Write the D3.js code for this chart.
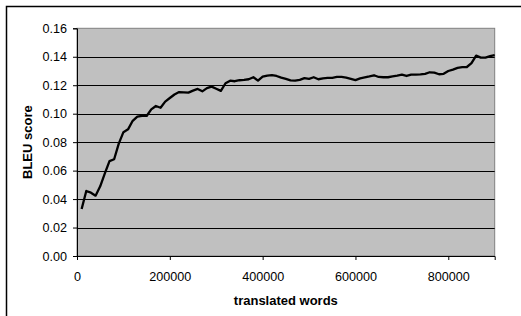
<!DOCTYPE html>
<html>
<head>
<meta charset="utf-8">
<script src="https://cdn.jsdelivr.net/npm/d3@7"></script>
<style>
  html, body { margin: 0; padding: 0; background: #fff; }
  svg { display: block; }
  text { font-family: "Liberation Sans", Arial, sans-serif; }
</style>
</head>
<body>
<svg id="chart" width="521" height="316"></svg>
<script>
const words = [10000,20000,30000,40000,50000,60000,70000,80000,90000,100000,
  110000,120000,130000,140000,150000,160000,170000,180000,190000,200000,
  210000,220000,230000,240000,250000,260000,270000,280000,290000,300000,
  310000,320000,330000,340000,350000,360000,370000,380000,390000,400000,
  410000,420000,430000,440000,450000,460000,470000,480000,490000,500000,
  510000,520000,530000,540000,550000,560000,570000,580000,590000,600000,
  610000,620000,630000,640000,650000,660000,670000,680000,690000,700000,
  710000,720000,730000,740000,750000,760000,770000,780000,790000,800000,
  810000,820000,830000,840000,850000,860000,870000,880000,890000,900000];
const bleu = [0.033,0.0457,0.0445,0.0424,0.049,0.058,0.0667,0.068,0.079,0.087,
  0.089,0.095,0.098,0.0985,0.0984,0.103,0.1054,0.1042,0.1085,0.111,
  0.1135,0.1152,0.115,0.1148,0.1162,0.1174,0.1157,0.118,0.119,0.1175,
  0.116,0.1214,0.1232,0.1228,0.1235,0.1237,0.1242,0.1256,0.1232,0.126,
  0.1268,0.1271,0.1265,0.1253,0.1245,0.1234,0.1233,0.1238,0.125,0.1245,
  0.1256,0.1242,0.1248,0.1251,0.1252,0.1258,0.1258,0.1253,0.1245,0.1236,
  0.1248,0.1255,0.1262,0.127,0.1258,0.1256,0.1256,0.1262,0.1267,0.1274,
  0.1265,0.1274,0.1274,0.1276,0.128,0.1291,0.1288,0.1277,0.128,0.13,
  0.131,0.1322,0.1327,0.1328,0.1355,0.1408,0.1394,0.1394,0.1404,0.1412];
const xTicks = [0,200000,400000,600000,800000];
const yTicks = [0,0.02,0.04,0.06,0.08,0.10,0.12,0.14,0.16];
const xTitle = "translated words";
const yTitle = "BLEU score";

const svg = d3.select("#chart");
const L = 77, R = 494.7, T = 28.3, B = 256;

// outer frame
svg.append("path").attr("d", "M6.5,316 L6.5,6.5 L521,6.5")
  .attr("fill","none").attr("stroke","#000").attr("stroke-width",1.5);

const x = d3.scaleLinear().domain([0,900000]).range([L,R]);
const y = d3.scaleLinear().domain([0,0.16]).range([B,T]);

svg.append("rect").attr("x",L).attr("y",T).attr("width",R-L).attr("height",B-T)
  .attr("fill","#c0c0c0").attr("stroke","#808080").attr("stroke-width",1);

svg.append("g").selectAll("line").data(yTicks.filter(d=>d>0 && d<0.16)).join("line")
  .attr("x1",L).attr("x2",R)
  .attr("y1",d=>Math.round(y(d))+0.5).attr("y2",d=>Math.round(y(d))+0.5)
  .attr("stroke","#000").attr("stroke-width",1);

const yAxis = svg.append("g").attr("transform",`translate(${L},0)`)
  .call(d3.axisLeft(y).tickValues(yTicks).tickFormat(d3.format(".2f")).tickSize(4).tickPadding(6));
const xAxis = svg.append("g").attr("transform",`translate(0,${B})`)
  .call(d3.axisBottom(x).tickValues(xTicks).tickFormat(d3.format("d")).tickSize(4).tickPadding(12));
[yAxis, xAxis].forEach(g => {
  g.select(".domain").attr("stroke","#000");
  g.selectAll(".tick line").attr("stroke","#000");
  g.selectAll("text").attr("font-size",12.6).attr("fill","#000")
    .attr("font-family","'Liberation Sans', Arial, sans-serif");
});
yAxis.selectAll(".tick text").attr("x",-10);

const line = d3.line().x((d,i)=>x(words[i])).y(d=>y(d)).curve(d3.curveLinear);
svg.append("path").datum(bleu).attr("d",line)
  .attr("fill","none").attr("stroke","#000").attr("stroke-width",2.3)
  .attr("stroke-linejoin","round");

svg.append("text").attr("x",(L+R)/2).attr("y",305).attr("text-anchor","middle")
  .attr("font-weight","bold").attr("font-size",13).text(xTitle);
svg.append("text").attr("transform",`translate(32,${(T+B)/2}) rotate(-90)`)
  .attr("text-anchor","middle").attr("font-weight","bold").attr("font-size",13).text(yTitle);
</script>
</body>
</html>
